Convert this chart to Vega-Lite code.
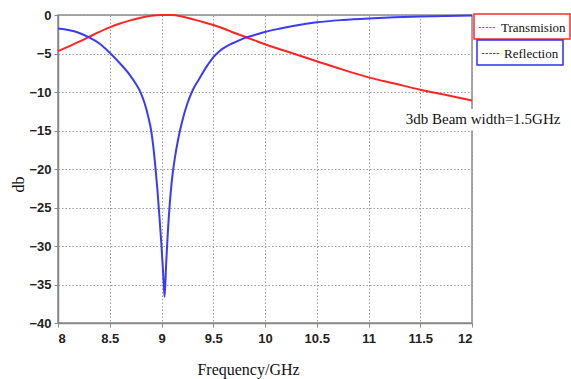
{
  "$schema": "https://vega.github.io/schema/vega-lite/v6.json",
  "width": 414,
  "height": 308,
  "autosize": "none",
  "padding": {"left": 58, "top": 15, "right": 99, "bottom": 56},
  "background": "white",
  "config": {
    "view": {"stroke": "#8c8c8c", "strokeWidth": 1.5},
    "axis": {
      "domainColor": "#888888",
      "domainWidth": 1.5,
      "tickColor": "#888888",
      "tickSize": 4,
      "gridColor": "#9a9a9a",
      "gridDash": [1.5, 2],
      "gridWidth": 1,
      "labelFont": "Liberation Sans",
      "labelFontSize": 13,
      "labelFontWeight": "bold",
      "labelColor": "#222222",
      "labelOverlap": false,
      "titleFont": "Liberation Serif",
      "titleFontSize": 16,
      "titleFontWeight": "normal",
      "titleColor": "#111111"
    },
    "legend": {
      "orient": "none",
      "symbolType": "stroke",
      "symbolSize": 300,
      "labelFont": "Liberation Serif",
      "labelFontSize": 13,
      "labelColor": "#111111",
      "labelOffset": 4,
      "padding": 4,
      "fillColor": "white"
    }
  },
  "datasets": {
    "curves": [
      {"freq": 8.0, "db": -4.7, "series": "Transmision"},
      {"freq": 8.1, "db": -4.1, "series": "Transmision"},
      {"freq": 8.2, "db": -3.5, "series": "Transmision"},
      {"freq": 8.3, "db": -2.85, "series": "Transmision"},
      {"freq": 8.4, "db": -2.2, "series": "Transmision"},
      {"freq": 8.5, "db": -1.6, "series": "Transmision"},
      {"freq": 8.6, "db": -1.1, "series": "Transmision"},
      {"freq": 8.7, "db": -0.7, "series": "Transmision"},
      {"freq": 8.8, "db": -0.35, "series": "Transmision"},
      {"freq": 8.9, "db": -0.1, "series": "Transmision"},
      {"freq": 9.0, "db": 0, "series": "Transmision"},
      {"freq": 9.1, "db": 0, "series": "Transmision"},
      {"freq": 9.2, "db": -0.2, "series": "Transmision"},
      {"freq": 9.3, "db": -0.55, "series": "Transmision"},
      {"freq": 9.4, "db": -0.9, "series": "Transmision"},
      {"freq": 9.5, "db": -1.3, "series": "Transmision"},
      {"freq": 9.6, "db": -1.75, "series": "Transmision"},
      {"freq": 9.7, "db": -2.3, "series": "Transmision"},
      {"freq": 9.8, "db": -2.8, "series": "Transmision"},
      {"freq": 9.9, "db": -3.3, "series": "Transmision"},
      {"freq": 10.0, "db": -3.8, "series": "Transmision"},
      {"freq": 10.25, "db": -4.9, "series": "Transmision"},
      {"freq": 10.5, "db": -6.0, "series": "Transmision"},
      {"freq": 10.75, "db": -7.1, "series": "Transmision"},
      {"freq": 11.0, "db": -8.1, "series": "Transmision"},
      {"freq": 11.25, "db": -8.9, "series": "Transmision"},
      {"freq": 11.5, "db": -9.7, "series": "Transmision"},
      {"freq": 11.75, "db": -10.4, "series": "Transmision"},
      {"freq": 12.0, "db": -11.1, "series": "Transmision"},
      {"freq": 8.0, "db": -1.75, "series": "Reflection"},
      {"freq": 8.1, "db": -1.95, "series": "Reflection"},
      {"freq": 8.2, "db": -2.3, "series": "Reflection"},
      {"freq": 8.3, "db": -2.9, "series": "Reflection"},
      {"freq": 8.4, "db": -3.7, "series": "Reflection"},
      {"freq": 8.5, "db": -4.9, "series": "Reflection"},
      {"freq": 8.6, "db": -6.3, "series": "Reflection"},
      {"freq": 8.7, "db": -7.9, "series": "Reflection"},
      {"freq": 8.75, "db": -8.9, "series": "Reflection"},
      {"freq": 8.8, "db": -10.1, "series": "Reflection"},
      {"freq": 8.84, "db": -11.6, "series": "Reflection"},
      {"freq": 8.87, "db": -13.1, "series": "Reflection"},
      {"freq": 8.9, "db": -15.0, "series": "Reflection"},
      {"freq": 8.92, "db": -17.0, "series": "Reflection"},
      {"freq": 8.94, "db": -19.6, "series": "Reflection"},
      {"freq": 8.96, "db": -22.6, "series": "Reflection"},
      {"freq": 8.98, "db": -26.2, "series": "Reflection"},
      {"freq": 9.0, "db": -30.0, "series": "Reflection"},
      {"freq": 9.02, "db": -34.5, "series": "Reflection"},
      {"freq": 9.03, "db": -36.6, "series": "Reflection"},
      {"freq": 9.045, "db": -32.3, "series": "Reflection"},
      {"freq": 9.06, "db": -28.5, "series": "Reflection"},
      {"freq": 9.08, "db": -24.5, "series": "Reflection"},
      {"freq": 9.1, "db": -21.5, "series": "Reflection"},
      {"freq": 9.13, "db": -18.5, "series": "Reflection"},
      {"freq": 9.16, "db": -16.2, "series": "Reflection"},
      {"freq": 9.2, "db": -13.8, "series": "Reflection"},
      {"freq": 9.25, "db": -11.5, "series": "Reflection"},
      {"freq": 9.3, "db": -9.8, "series": "Reflection"},
      {"freq": 9.36, "db": -8.4, "series": "Reflection"},
      {"freq": 9.44, "db": -6.6, "series": "Reflection"},
      {"freq": 9.48, "db": -5.85, "series": "Reflection"},
      {"freq": 9.52, "db": -5.2, "series": "Reflection"},
      {"freq": 9.56, "db": -4.7, "series": "Reflection"},
      {"freq": 9.6, "db": -4.3, "series": "Reflection"},
      {"freq": 9.65, "db": -3.9, "series": "Reflection"},
      {"freq": 9.7, "db": -3.6, "series": "Reflection"},
      {"freq": 9.8, "db": -3.0, "series": "Reflection"},
      {"freq": 9.9, "db": -2.6, "series": "Reflection"},
      {"freq": 10.0, "db": -2.2, "series": "Reflection"},
      {"freq": 10.15, "db": -1.75, "series": "Reflection"},
      {"freq": 10.3, "db": -1.35, "series": "Reflection"},
      {"freq": 10.5, "db": -0.95, "series": "Reflection"},
      {"freq": 10.75, "db": -0.65, "series": "Reflection"},
      {"freq": 11.0, "db": -0.45, "series": "Reflection"},
      {"freq": 11.25, "db": -0.3, "series": "Reflection"},
      {"freq": 11.5, "db": -0.2, "series": "Reflection"},
      {"freq": 11.75, "db": -0.13, "series": "Reflection"},
      {"freq": 12.0, "db": -0.08, "series": "Reflection"}
    ]
  },
  "layer": [
    {
      "data": {"name": "curves"},
      "transform": [{"filter": "datum.series === 'Transmision'"}],
      "mark": {"type": "line", "strokeWidth": 2, "interpolate": "monotone"},
      "encoding": {
        "x": {
          "field": "freq",
          "type": "quantitative",
          "scale": {"domain": [8, 12], "nice": false, "zero": false},
          "axis": {
            "values": [8, 8.5, 9, 9.5, 10, 10.5, 11, 11.5, 12],
            "format": "~g",
            "labelPadding": 5,
            "title": "Frequency/GHz",
            "titleX": 190,
            "titleY": 51,
            "titleBaseline": "alphabetic",
            "titleAnchor": "middle"
          }
        },
        "y": {
          "field": "db",
          "type": "quantitative",
          "scale": {"domain": [-40, 0], "nice": false, "zero": false},
          "axis": {
            "values": [-40, -35, -30, -25, -20, -15, -10, -5, 0],
            "format": "d",
            "labelPadding": 3,
            "title": "db",
            "titleAngle": -90,
            "titleX": -40,
            "titleY": 169,
            "titleAlign": "center",
            "titleBaseline": "middle"
          }
        },
        "color": {
          "field": "series",
          "type": "nominal",
          "scale": {"range": ["#ff2424"]},
          "legend": {
            "title": null,
            "legendX": 416,
            "legendY": -1,
            "encode": {
              "symbols": {"update": {"stroke": {"value": "#9a9a9a"}, "strokeDash": {"value": [2, 1.5]}, "strokeWidth": {"value": 1}}},
              "legend": {"update": {"stroke": {"value": "#ff2a2a"}, "strokeWidth": {"value": 1.5}}}
            }
          }
        }
      }
    },
    {
      "data": {"name": "curves"},
      "transform": [{"filter": "datum.series === 'Reflection'"}],
      "mark": {"type": "line", "strokeWidth": 2, "interpolate": "monotone"},
      "encoding": {
        "x": {
          "field": "freq",
          "type": "quantitative",
          "axis": {
            "values": [8, 8.5, 9, 9.5, 10, 10.5, 11, 11.5, 12],
            "format": "~g",
            "labelPadding": 5,
            "title": "Frequency/GHz",
            "titleX": 190,
            "titleY": 51,
            "titleBaseline": "alphabetic",
            "titleAnchor": "middle"
          }
        },
        "y": {
          "field": "db",
          "type": "quantitative",
          "axis": {
            "values": [-40, -35, -30, -25, -20, -15, -10, -5, 0],
            "format": "d",
            "labelPadding": 3,
            "title": "db",
            "titleAngle": -90,
            "titleX": -40,
            "titleY": 169,
            "titleAlign": "center",
            "titleBaseline": "middle"
          }
        },
        "stroke": {
          "field": "series",
          "type": "nominal",
          "scale": {"range": ["#3b3bf5"]},
          "legend": {
            "title": null,
            "legendX": 419,
            "legendY": 25,
            "encode": {
              "symbols": {"update": {"stroke": {"value": "#111111"}, "strokeDash": {"value": [2.5, 1.2]}, "strokeWidth": {"value": 1.2}}},
              "legend": {"update": {"stroke": {"value": "#3030f0"}, "strokeWidth": {"value": 1.5}}}
            }
          }
        }
      }
    },
    {
      "data": {"values": [{"label": "3db Beam width=1.5GHz"}]},
      "mark": {"type": "rect", "fill": "white"},
      "encoding": {
        "x": {
          "datum": 11.33,
          "type": "quantitative",
          "axis": {
            "values": [8, 8.5, 9, 9.5, 10, 10.5, 11, 11.5, 12],
            "format": "~g",
            "labelPadding": 5,
            "title": "Frequency/GHz",
            "titleX": 190,
            "titleY": 51,
            "titleBaseline": "alphabetic",
            "titleAnchor": "middle"
          }
        },
        "x2": {"datum": 12.9},
        "y": {
          "datum": -12.2,
          "type": "quantitative",
          "axis": {
            "values": [-40, -35, -30, -25, -20, -15, -10, -5, 0],
            "format": "d",
            "labelPadding": 3,
            "title": "db",
            "titleAngle": -90,
            "titleX": -40,
            "titleY": 169,
            "titleAlign": "center",
            "titleBaseline": "middle"
          }
        },
        "y2": {"datum": -15.0}
      }
    },
    {
      "data": {"values": [{"label": "3db Beam width=1.5GHz"}]},
      "mark": {"type": "text", "align": "left", "baseline": "alphabetic", "font": "Liberation Serif", "fontSize": 15, "color": "#111111"},
      "encoding": {
        "x": {
          "datum": 11.36,
          "type": "quantitative",
          "axis": {
            "values": [8, 8.5, 9, 9.5, 10, 10.5, 11, 11.5, 12],
            "format": "~g",
            "labelPadding": 5,
            "title": "Frequency/GHz",
            "titleX": 190,
            "titleY": 51,
            "titleBaseline": "alphabetic",
            "titleAnchor": "middle"
          }
        },
        "y": {
          "datum": -14.2,
          "type": "quantitative",
          "axis": {
            "values": [-40, -35, -30, -25, -20, -15, -10, -5, 0],
            "format": "d",
            "labelPadding": 3,
            "title": "db",
            "titleAngle": -90,
            "titleX": -40,
            "titleY": 169,
            "titleAlign": "center",
            "titleBaseline": "middle"
          }
        },
        "text": {"field": "label"}
      }
    }
  ]
}
